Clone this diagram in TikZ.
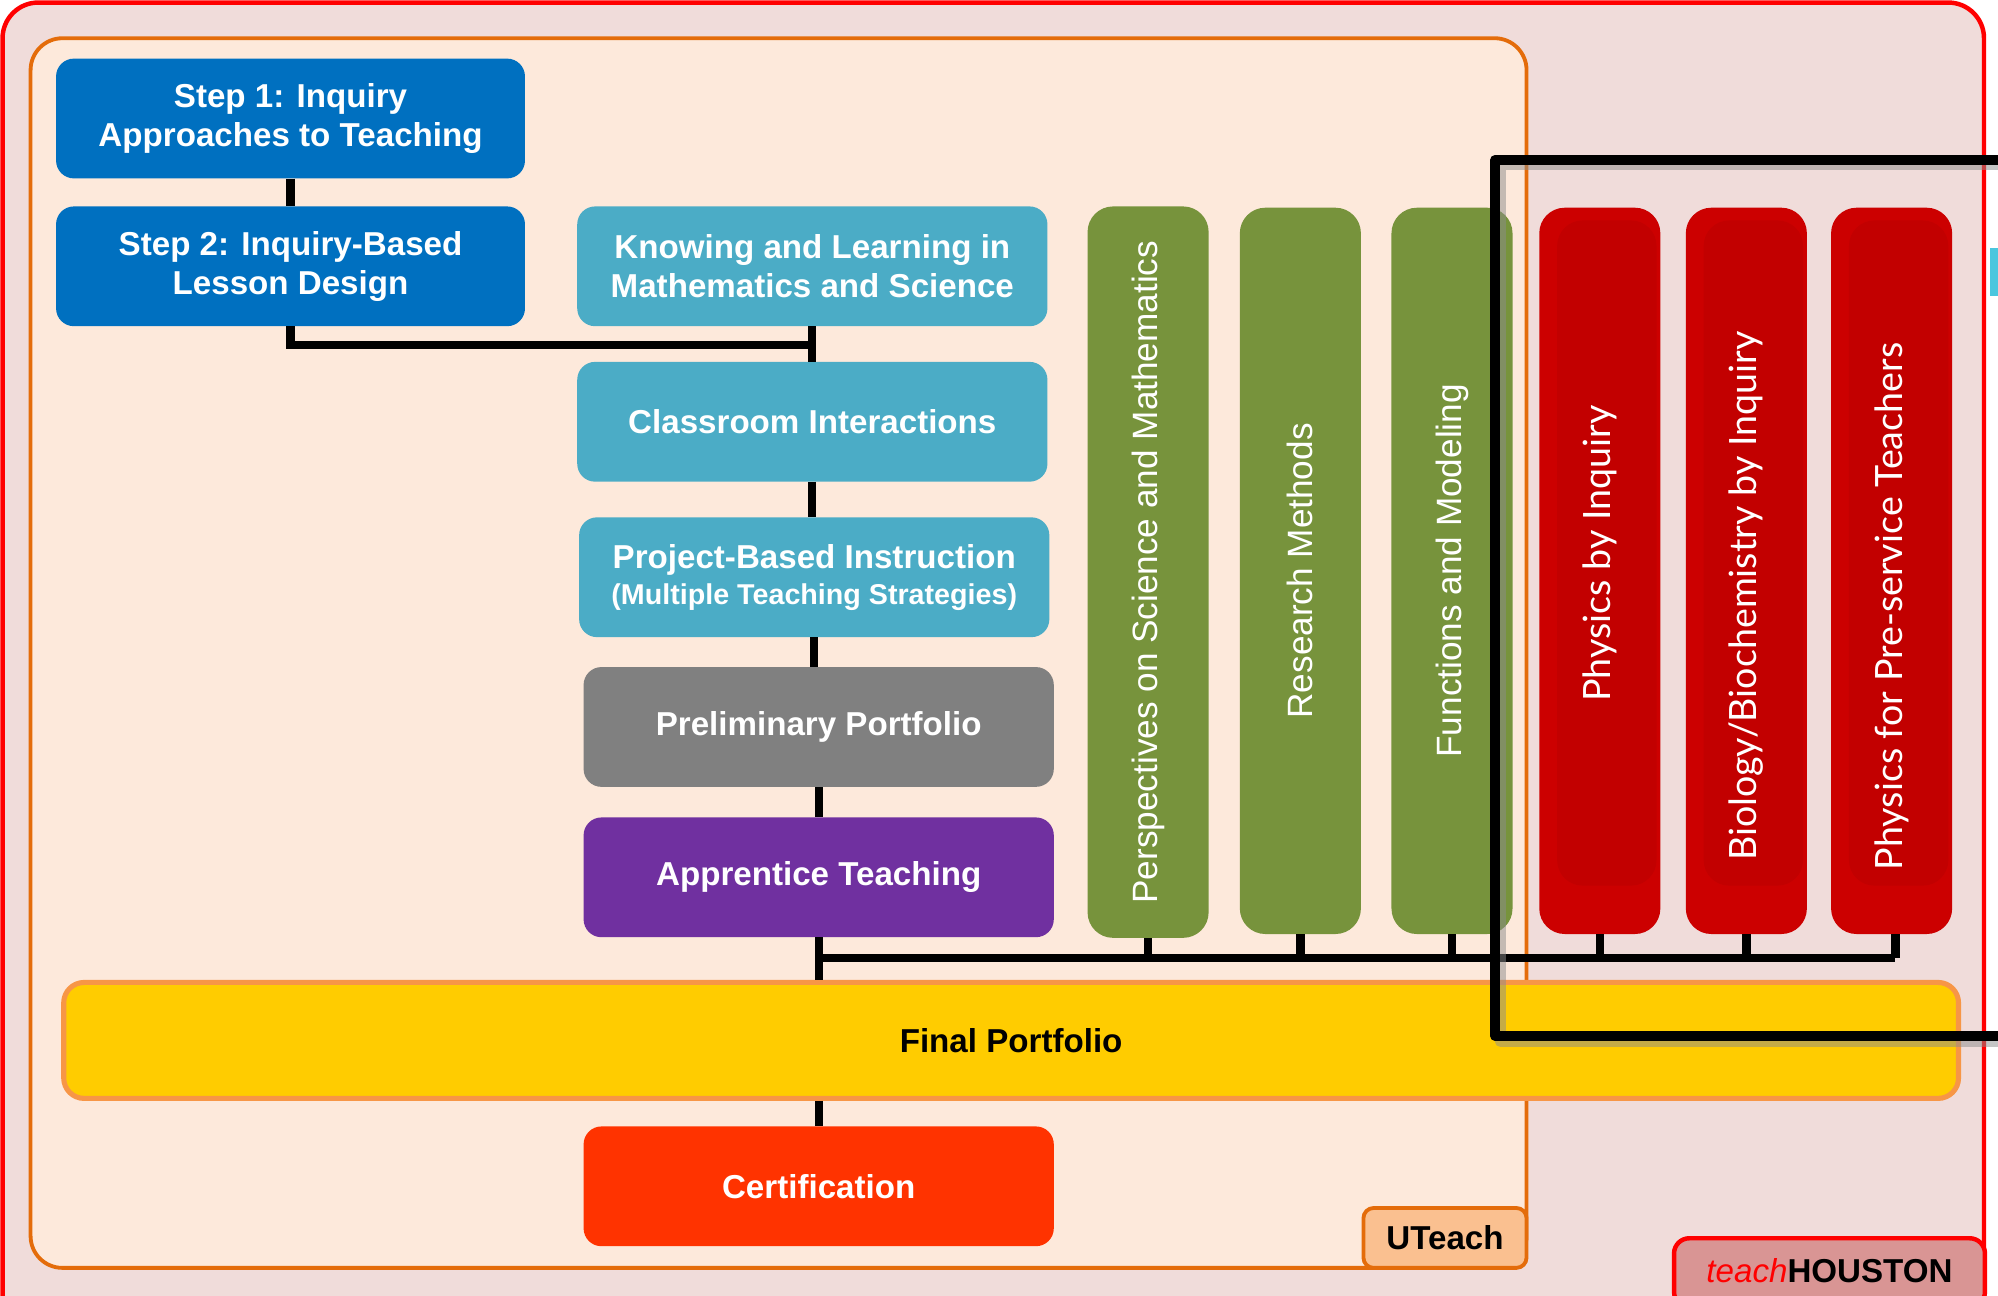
\documentclass[tikz,border=0pt]{standalone}
\usepackage{fontspec}
\setmainfont{Liberation Sans}
\newfontfamily\redfont{Lato}
\usetikzlibrary{calc}
\definecolor{cblue}{HTML}{0070C0}
\definecolor{cteal}{HTML}{4BACC6}
\definecolor{cgray}{HTML}{808080}
\definecolor{cpurple}{HTML}{7030A0}
\definecolor{cgreen}{HTML}{77933C}
\definecolor{credout}{HTML}{CC0000}
\definecolor{credin}{HTML}{C20000}
\definecolor{cyellow}{HTML}{FFCC00}
\definecolor{cyborder}{HTML}{F79646}
\definecolor{ccert}{HTML}{FF3300}
\definecolor{cpink}{HTML}{F0DCDA}
\definecolor{cpeach}{HTML}{FDE9DB}
\definecolor{corange}{HTML}{E46C0A}
\definecolor{cutfill}{HTML}{FAC090}
\definecolor{cthfill}{HTML}{D99594}
\definecolor{chred}{HTML}{FF0000}
\definecolor{ccyan}{HTML}{4BC6DE}
\newcommand\bxfont{\fontsize{26}{31}\selectfont\bfseries}
\newcommand\grfont{\fontsize{27.6}{32}\selectfont}
\newcommand\rdfont{\redfont\fontsize{29.5}{34}\selectfont}
\begin{document}
\begin{tikzpicture}[x=1pt,y=-1pt,
  box/.style={rectangle, rounded corners=14pt, inner sep=0pt, text=white, font=\bxfont, align=center, minimum width=369pt, minimum height=94pt},
  col/.style={rectangle, rounded corners=20pt, inner sep=0pt, text=white, minimum width=95pt, minimum height=570pt},
  redcol/.style={col, fill=credout, font=\rdfont,
    path picture={\fill[credin] ($(path picture bounding box.north west)+(14,10)$) rectangle ($(path picture bounding box.south east)+(-3,-38)$);}},
  link/.style={line width=6.5pt, black},
]
\useasboundingbox (0,0) rectangle (1568,1017);
\clip (0,0) rectangle (1568,1017);
\fill[white] (0,0) rectangle (1568,1017);
\fill[ccyan] (1562,195) rectangle (1570,232);
% outer teachHOUSTON frame
\draw[line width=3.5pt, draw=chred, fill=cpink, rounded corners=28pt] (2,2) rectangle (1557,1045);
% UTeach frame
\node[rectangle, draw=corange, line width=3pt, fill=cpeach, rounded corners=25pt, minimum width=1174pt, minimum height=965pt, inner sep=0pt] (uframe) at (611,512.5) {};

% boxes
\node[box, fill=cblue, minimum width=368pt] (step1) at (228,93) {Step 1: Inquiry\\Approaches to Teaching};
\node[box, fill=cblue, minimum width=368pt] (step2) at (228,209) {Step 2: Inquiry-Based\\Lesson Design};
\node[box, fill=cteal] (know) at (637.5,209) {Knowing and Learning in\\Mathematics and Science};
\node[box, fill=cteal] (class) at (637.5,331) {Classroom Interactions};
\node[box, fill=cteal] (proj) at (639,453) {Project-Based Instruction\\[-3pt]{\fontsize{22.5}{26}\selectfont (Multiple Teaching Strategies)}};
\node[box, fill=cgray] (prelim) at (642.5,570.5) {Preliminary Portfolio};
\node[box, fill=cpurple] (appr) at (642.5,688.5) {Apprentice Teaching};
\node[box, fill=ccert] (cert) at (642.5,931) {Certification};

% green columns
\node[col, fill=cgreen, minimum height=574pt, font=\grfont] (persp) at (901,449) {\rotatebox{90}{Perspectives on Science and Mathematics}};
\node[col, fill=cgreen, font=\grfont] (resm) at (1020.5,448) {\rotatebox{90}{Research Methods}};
\node[col, fill=cgreen, font=\grfont] (func) at (1139.5,448) {\rotatebox{90}{Functions and Modeling}};
% red columns
\node[redcol] (phys) at (1255.5,448) {\rotatebox{90}{\hspace*{27pt}Physics by Inquiry}};
\node[redcol] (bio) at (1370.5,448) {\rotatebox{90}{Biology/Biochemistry by Inquiry\hspace*{40pt}}};
\node[redcol] (ppt) at (1484.5,448) {\rotatebox{90}{Physics for Pre-service Teachers\hspace*{56pt}}};

% final portfolio
\node[rectangle, rounded corners=16pt, fill=cyellow, draw=cyborder, line width=4pt, minimum width=1487pt, minimum height=91pt, inner sep=0pt, font=\bxfont] (final) at (793.5,816.5) {Final Portfolio};

% connectors
\coordinate (bus) at (0,752);
\coordinate (j1) at (0,271);
\draw[link] (step1.south) -- (step2.north);
\draw[link] (step2.south) |- (know.south |- j1) -- (class.north);
\draw[link] (know.south) -- (class.north);
\draw[link] (class.south) -- (class.south |- proj.north);
\draw[link] (proj.south) -- (proj.south |- prelim.north);
\draw[link] (prelim.south) -- (prelim.south |- appr.north);
\draw[link] (appr.south) -- (appr.south |- final.north);
\draw[link] (appr.south |- bus) -- ([xshift=3pt]ppt.south |- bus);
\foreach \n in {persp,resm,func,phys,bio}{
  \draw[link] (\n.south) -- (\n.south |- bus);
}
\draw[link] ([xshift=3pt]ppt.south) -- ([xshift=3pt]ppt.south |- bus);
\draw[link] (cert.north |- final.south) -- (cert.north);

% labels
\node[rectangle, rounded corners=8pt, fill=cutfill, draw=corange, line width=3pt, minimum width=128pt, minimum height=47pt, inner sep=0pt, font=\bxfont] (ulabel) at (1134,971.5) {UTeach};
\node[rectangle, rounded corners=12pt, fill=cthfill, draw=chred, line width=3.5pt, minimum width=244pt, minimum height=54pt, inner sep=0pt, anchor=north west, font=\fontsize{26}{31}\selectfont] (thlabel) at (1312,970) {\raisebox{3pt}{\textcolor{chred}{\itshape teach}\textbf{HOUSTON}}};

% black frame with shadow
\draw[line width=8pt, black!45, opacity=0.5, line join=round] (1580,129.5) -- (1177.5,129.5) -- (1177.5,817.5) -- (1580,817.5);
\draw[line width=8pt, black, line join=round] (1580,125.5) -- (1173.5,125.5) -- (1173.5,813) -- (1580,813);
\end{tikzpicture}
\end{document}
